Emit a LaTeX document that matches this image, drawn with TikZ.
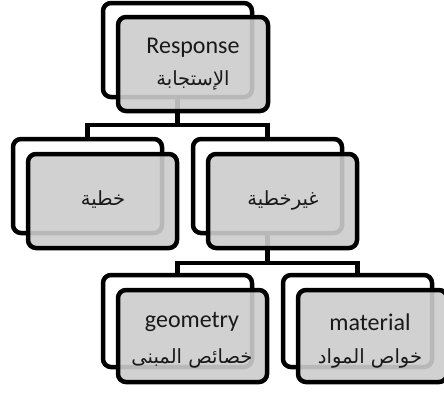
\documentclass[tikz,border=0pt]{standalone}
\usepackage{fontspec}
\setmainfont{Carlito}
\newfontfamily\arabicfont[Script=Arabic]{DejaVu Sans}
\TeXXeTstate=1
\tikzset{
  backbox/.style={draw=black, line width=4.5pt, rounded corners=8pt, fill=white},
  frontbox/.style={draw=black, line width=4.5pt, rounded corners=8pt, fill=black!20, fill opacity=0.9},
  conn/.style={draw=black, line width=4.5pt},
  lat/.style={font=\fontsize{24}{28}\selectfont, text=black!90},
  ara/.style={font=\arabicfont\fontsize{19.5}{23}\selectfont, text=black!90}
}
\begin{document}
\begin{tikzpicture}[x=1pt,y=-1pt]
\useasboundingbox (0,0) rectangle (444,392);
\clip (0,0) rectangle (444,392);
% back boxes
\draw[backbox] (103,3) rectangle (252,97);
\draw[backbox] (13,139) rectangle (162,233);
\draw[backbox] (193,139) rectangle (342,233);
\draw[backbox] (103,275) rectangle (252,367);
\draw[backbox] (283,275) rectangle (432,367);
% anchor coordinates
\coordinate (r) at (177.5,97);
\coordinate (r1) at (177.5,125);
\coordinate (a) at (87.5,139);
\coordinate (a1) at (87.5,125);
\coordinate (b) at (267.5,139);
\coordinate (b1) at (267.5,125);
\coordinate (bb) at (267.5,233);
\coordinate (bb1) at (267.5,263);
\coordinate (c) at (177.5,275);
\coordinate (c1) at (177.5,263);
\coordinate (d) at (357.5,275);
\coordinate (d1) at (357.5,263);
% connectors
\draw[conn] (r) -- (r1);
\draw[conn, line join=miter] (a) -- (a1) -- (b1) -- (b);
\draw[conn] (bb) -- (bb1);
\draw[conn, line join=miter] (c) -- (c1) -- (d1) -- (d);
% front boxes
\draw[frontbox] (118,17) rectangle (268,111);
\draw[frontbox] (28,154) rectangle (177,248);
\draw[frontbox] (208,154) rectangle (357,248);
\draw[frontbox] (118,290) rectangle (267,382);
\draw[frontbox] (298,290) rectangle (447,382);
% texts
\node[lat] (t0) at (193,48) {Response};
\node[ara] (t0a) at (193,80) {\beginR الإستجابة\endR};
\node[ara] (t1) at (103,200) {\beginR خطية\endR};
\node[ara] (t2) at (283,200) {\beginR غيرخطية\endR};
\node[lat] (t3) at (192,322) {geometry};
\node[ara] (t3a) at (192,358) {\beginR خصائص المبنى\endR};
\node[lat] (t4) at (370,322) {material};
\node[ara] (t4a) at (370,358) {\beginR خواص المواد\endR};
\end{tikzpicture}
\end{document}
